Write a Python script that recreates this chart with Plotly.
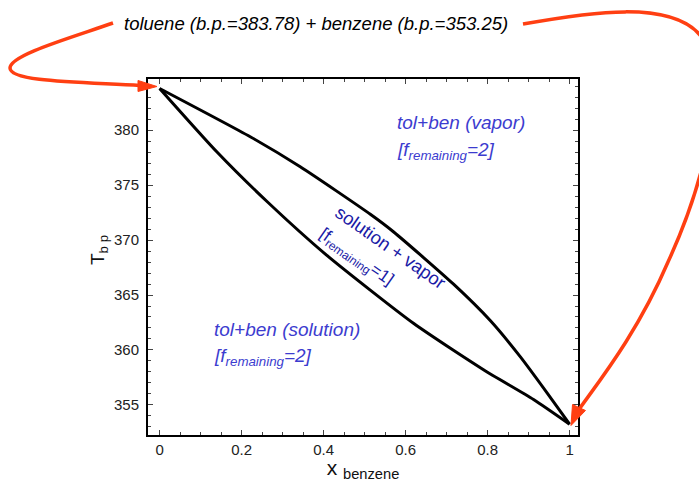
import plotly.graph_objects as go

# ---- data ----
x_liquid = [0.0, 0.14, 0.262, 0.408, 0.62, 0.79, 0.912, 1.0]
T_liquid = [383.78, 378.0, 373.5, 368.6, 362.4, 358.2, 355.5, 353.25]

x_vapor = [0.0, 0.221, 0.343, 0.514, 0.571, 0.717, 0.807, 0.88, 0.945, 1.0]
T_vapor = [383.78, 379.39, 376.66, 372.34, 370.73, 365.98, 362.65, 359.37, 356.1, 353.25]

x_ticks = [0, 0.2, 0.4, 0.6, 0.8, 1]
x_ticklabels = ["0", "0.2", "0.4", "0.6", "0.8", "1"]
y_ticks = [355, 360, 365, 370, 375, 380]
y_ticklabels = ["355", "360", "365", "370", "375", "380"]

title_text = "toluene (b.p.=383.78) + benzene (b.p.=353.25)"

# ---- layout geometry (pixels) ----
W, H = 699, 482
L, R, T, B = 148, 578, 79, 435
FONT = "Liberation Sans, Arial, sans-serif"
RED = "#ff3f12"
BLUE = "#3c3ccf"
NAVY = "#1a1aa6"


def px(x):
    return (x - L) / (R - L)


def py(y):
    return (B - y) / (B - T)


def pt(p):
    return f"{px(p[0]):.5f},{py(p[1]):.5f}"


fig = go.Figure()
fig.add_trace(go.Scatter(x=x_liquid, y=T_liquid, mode="lines",
                         line=dict(color="black", width=3, shape="spline", smoothing=0.6),
                         showlegend=False))
fig.add_trace(go.Scatter(x=x_vapor, y=T_vapor, mode="lines",
                         line=dict(color="black", width=3, shape="spline", smoothing=0.6),
                         showlegend=False))

axis_common = dict(
    showgrid=False, zeroline=False, showline=True, linecolor="black", linewidth=2,
    mirror="ticks", ticks="inside", ticklen=5, tickwidth=1, tickcolor="#444",
    tickfont=dict(family=FONT, size=15, color="#222"), automargin=False,
)

fig.update_xaxes(range=[-0.0283, 1.0205], tickvals=x_ticks, ticktext=x_ticklabels,
                 minor=dict(dtick=0.05, ticks="inside", ticklen=3, tickcolor="#444"),
                 title=dict(text="x <sub>benzene</sub>", font=dict(family=FONT, size=21, color="#111")),
                 **axis_common)
fig.update_yaxes(range=[352.27, 384.64], tickvals=y_ticks, ticktext=y_ticklabels,
                 minor=dict(dtick=1, ticks="inside", ticklen=3, tickcolor="#444"),
                 ticklabelstandoff=4,
                 **axis_common)

annotations = [
    dict(text=f"<i>{title_text}</i>", x=px(316), y=py(23), xref="paper", yref="paper",
         showarrow=False, font=dict(family=FONT, size=18.5, color="black"),
         xanchor="center", yanchor="middle"),
    dict(text="T<sub>b p</sub>", x=px(99), y=py(250), xref="paper", yref="paper",
         showarrow=False, font=dict(family=FONT, size=19, color="#111"), textangle=-90,
         xanchor="center", yanchor="middle"),
    dict(text="<i>tol+ben (vapor)</i>", x=px(395), y=py(123), xref="paper", yref="paper",
         showarrow=False, font=dict(family=FONT, size=19, color=BLUE), xanchor="left", yanchor="middle"),
    dict(text="<i>[f<sub>remaining</sub>=2]</i>", x=px(395), y=py(151), xref="paper", yref="paper",
         showarrow=False, font=dict(family=FONT, size=19, color=BLUE), xanchor="left", yanchor="middle"),
    dict(text="<i>tol+ben (solution)</i>", x=px(212), y=py(329), xref="paper", yref="paper",
         showarrow=False, font=dict(family=FONT, size=19, color=BLUE), xanchor="left", yanchor="middle"),
    dict(text="<i>[f<sub>remaining</sub>=2]</i>", x=px(212), y=py(357), xref="paper", yref="paper",
         showarrow=False, font=dict(family=FONT, size=19, color=BLUE), xanchor="left", yanchor="middle"),
    dict(text="solution + vapor", x=px(391), y=py(247), xref="paper", yref="paper",
         showarrow=False, font=dict(family=FONT, size=18.3, color=NAVY), textangle=35,
         xanchor="center", yanchor="middle"),
    dict(text="[f<sub>remaining</sub>=1]", x=px(356), y=py(258), xref="paper", yref="paper",
         showarrow=False, font=dict(family=FONT, size=17, color=NAVY), textangle=35,
         xanchor="center", yanchor="middle"),
]

# ---- red curved arrows ----
left_path = ("M " + pt((113, 23)) + " C " + pt((70, 38)) + " " + pt((10, 55)) + " " + pt((10, 68))
             + " C " + pt((10, 82)) + " " + pt((80, 82)) + " " + pt((140, 85.5)))
left_head = "M " + pt((157, 86.5)) + " L " + pt((138, 80.5)) + " L " + pt((138, 91.5)) + " Z"

right_path = ("M " + pt((523, 24)) + " C " + pt((590, 12)) + " " + pt((670, 0)) + " " + pt((700, 35))
              + " C " + pt((730, 70)) + " " + pt((708, 175)) + " " + pt((668, 262))
              + " C " + pt((638, 332)) + " " + pt((600, 380)) + " " + pt((580, 408)))
right_head = "M " + pt((571, 425.5)) + " L " + pt((572.5, 404.5)) + " L " + pt((585.5, 410.5)) + " Z"

shapes = [
    dict(type="path", path=left_path, xref="paper", yref="paper", line=dict(color=RED, width=3.5)),
    dict(type="path", path=left_head, xref="paper", yref="paper", line=dict(color=RED, width=1),
         fillcolor=RED),
    dict(type="path", path=right_path, xref="paper", yref="paper", line=dict(color=RED, width=3.5)),
    dict(type="path", path=right_head, xref="paper", yref="paper", line=dict(color=RED, width=1),
         fillcolor=RED),
]

fig.update_layout(
    width=W, height=H, margin=dict(l=L, r=W - R, t=T, b=H - B, pad=0, autoexpand=False),
    paper_bgcolor="white", plot_bgcolor="white",
    annotations=annotations, shapes=shapes, showlegend=False,
    font=dict(family=FONT),
)

fig.write_html("out.html", config={"displayModeBar": False},
               post_script="document.body.style.margin='0';document.body.style.padding='0';")
